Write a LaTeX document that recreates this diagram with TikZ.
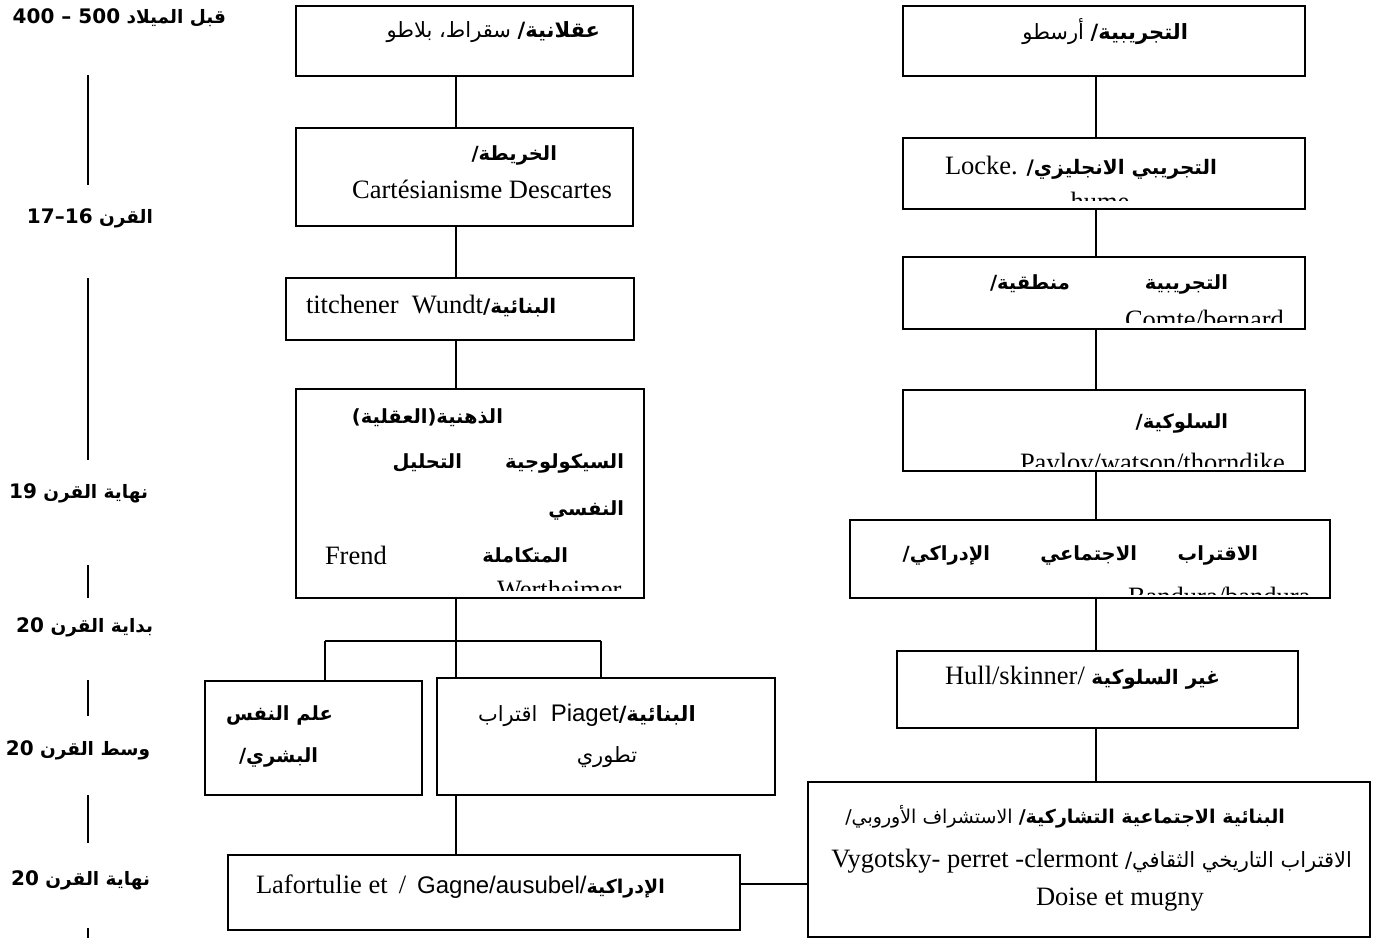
\documentclass[tikz,border=0pt]{standalone}
\usepackage{fontspec}
\setmainfont{Liberation Serif}
\newfontfamily\arb[Script=Arabic]{DejaVu Sans}
\newfontfamily\tlat{DejaVu Sans}
\newfontfamily\lsans{Liberation Sans}
\TeXXeTstate=1
\newcommand\RL[1]{\beginR #1\endR}
\newcommand\fs[1]{\fontsize{#1}{#1}\selectfont}
\newcommand\mkbox[5]{\node[box, minimum width={#4-#2}, minimum height={#5-#3}] (#1) at ({(#2+#4)/2},{(#3+#5)/2}) {};}
\tikzset{
  box/.style={draw, line width=1.5pt, inner sep=0pt, outer sep=0pt},
  conn/.style={line width=1.5pt},
  txt/.style={inner sep=0pt, outer sep=0pt, font=\fs{26.5}},
  ar/.style={inner sep=0pt, outer sep=0pt, font=\arb\fs{21}},
  arb/.style={inner sep=0pt, outer sep=0pt, font=\arb\bfseries\fs{19.5}},
  tl/.style={inner sep=0pt, outer sep=0pt, font=\arb\bfseries\fs{18.5}},
}
\begin{document}
\begin{tikzpicture}[x=1pt,y=-1pt]
\useasboundingbox (0,0) rectangle (1385,938);
\fill[white] (0,0) rectangle (1385,938);

% ---------- timeline ----------
\node[tl, anchor=east] (T1) at (226,18) {{\tlat\bfseries\fs{20}400 – 500} \RL{قبل الميلاد}};
\node[tl, anchor=east] (T2) at (153,218) {{\tlat\bfseries\fs{20}17–16} \RL{القرن}};
\node[tl, anchor=east] (T3) at (148,493) {{\tlat\bfseries\fs{20}19} \RL{نهاية القرن}};
\node[tl, anchor=east] (T4) at (153,627) {{\tlat\bfseries\fs{20}20} \RL{بداية القرن}};
\node[tl, anchor=east] (T5) at (150,750) {{\tlat\bfseries\fs{20}20} \RL{وسط القرن}};
\node[tl, anchor=east] (T6) at (150,880) {{\tlat\bfseries\fs{20}20} \RL{نهاية القرن}};
\coordinate (ta1) at (88,75);  \coordinate (tb1) at (88,185);
\coordinate (ta2) at (88,278); \coordinate (tb2) at (88,460);
\coordinate (ta3) at (88,565); \coordinate (tb3) at (88,598);
\coordinate (ta4) at (88,680); \coordinate (tb4) at (88,716);
\coordinate (ta5) at (88,795); \coordinate (tb5) at (88,843);
\coordinate (ta6) at (88,928); \coordinate (tb6) at (88,938);
\foreach \i in {1,...,6} \draw[conn] (ta\i) -- (tb\i);

% ---------- boxes ----------
\mkbox{B1}{296}{6}{633}{76}
\mkbox{B2}{296}{128}{633}{226}
\mkbox{B3}{286}{278}{634}{340}
\mkbox{B4}{296}{389}{644}{598}
\mkbox{L}{205}{681}{422}{795}
\mkbox{P}{437}{678}{775}{795}
\mkbox{BL}{228}{855}{740}{930}
\mkbox{R1}{903}{6}{1305}{76}
\mkbox{R2}{903}{138}{1305}{209}
\mkbox{R3}{903}{257}{1305}{329}
\mkbox{R4}{903}{390}{1305}{471}
\mkbox{R5}{850}{520}{1330}{598}
\mkbox{R6}{897}{651}{1298}{728}
\mkbox{R7}{808}{782}{1370}{937}

% ---------- connectors ----------
\coordinate (vL) at (456,0);
\coordinate (vR) at (1096,0);
\coordinate (jL) at (456,641);
\coordinate (jA) at (325,641);
\coordinate (jB) at (601,641);
\coordinate (hy) at (0,884);
\draw[conn] (B1.south -| vL) -- (B2.north -| vL);
\draw[conn] (B2.south -| vL) -- (B3.north -| vL);
\draw[conn] (B3.south -| vL) -- (B4.north -| vL);
\draw[conn] (B4.south -| vL) -- (jL);
\draw[conn] (jA) -- (jB);
\draw[conn] (jA) -- (L.north -| jA);
\draw[conn] (jB) -- (P.north -| jB);
\draw[conn] (jL) -- (P.north -| jL);
\draw[conn] (P.south -| vL) -- (BL.north -| vL);
\draw[conn] (BL.east |- hy) -- (R7.west |- hy);
\draw[conn] (R1.south -| vR) -- (R2.north -| vR);
\draw[conn] (R2.south -| vR) -- (R3.north -| vR);
\draw[conn] (R3.south -| vR) -- (R4.north -| vR);
\draw[conn] (R4.south -| vR) -- (R5.north -| vR);
\draw[conn] (R5.south -| vR) -- (R6.north -| vR);
\draw[conn] (R6.south -| vR) -- (R7.north -| vR);

% ---------- texts, left column ----------
\node[ar, anchor=east] (xB1) at (600,32) {\RL{{\bfseries عقلانية/} سقراط، بلاطو}};
\node[arb, anchor=east] (xB2a) at (557,155) {\RL{الخريطة/}};
\node[txt] (xB2b) at (482,189) {Cartésianisme Descartes};
\node[txt, anchor=west] (xB3) at (306,306) {titchener\ \ Wundt{\arb\bfseries\fs{20}\RL{البنائية/}}};
\node[arb, anchor=east] (xB4a) at (503,418) {\RL{الذهنية(العقلية)}};
\node[arb, anchor=east] (xB4b) at (624,463) {\RL{السيكولوجية}};
\node[arb, anchor=east] (xB4c) at (462,463) {\RL{التحليل}};
\node[arb, anchor=east] (xB4d) at (624,510) {\RL{النفسي}};
\node[txt, anchor=west] (xB4e) at (325,555) {Frend};
\node[arb, anchor=east] (xB4f) at (568,555) {\RL{المتكاملة}};
\begin{scope}
\clip (297,580) rectangle (643,590);
\node[txt, anchor=base west] (xB4g) at (497,598) {Wertheimer};
\end{scope}
\node[arb, anchor=east] (xLa) at (333,715) {\RL{علم النفس}};
\node[arb, anchor=east] (xLb) at (318,757) {\RL{البشري/}};
\node[ar, anchor=west] (xPa) at (478,715) {\RL{اقتراب}\ \ {\lsans\fs{24}Piaget}{\bfseries\fs{21}\RL{البنائية/}}};
\node[ar] (xPb) at (607,757) {\RL{تطوري}};
\node[txt, anchor=west] (xBL) at (256,887) {Lafortulie et \,/\, {\lsans\fs{24}Gagne/ausubel/}{\arb\bfseries\fs{19}\RL{الإدراكية}}};

% ---------- texts, right column ----------
\node[ar, anchor=east] (xR1) at (1188,32) {\RL{{\bfseries التجريبية/} أرسطو}};
\node[txt, anchor=west] (xR2) at (945,168) {Locke. {\arb\bfseries\fs{20}\RL{التجريبي الانجليزي/}}};
\begin{scope}
\clip (904,185) rectangle (1304,200);
\node[txt, anchor=base] (xR2b) at (1100,210) {hume};
\end{scope}
\node[arb, anchor=east] (xR3a) at (1228,284) {\RL{التجريبية}};
\node[arb, anchor=east] (xR3b) at (1070,284) {\RL{منطقية/}};
\begin{scope}
\clip (904,300) rectangle (1304,322);
\node[txt, anchor=base west] (xR3c) at (1125,328) {Comte/bernard};
\end{scope}
\node[arb, anchor=east] (xR4a) at (1228,423) {\RL{السلوكية/}};
\begin{scope}
\clip (904,440) rectangle (1304,466);
\node[txt, anchor=base west] (xR4b) at (1020,471) {Pavlov/watson/thorndike};
\end{scope}
\node[arb, anchor=east] (xR5a) at (1258,555) {\RL{الاقتراب}};
\node[arb, anchor=east] (xR5b) at (1137,555) {\RL{الاجتماعي}};
\node[arb, anchor=east] (xR5c) at (990,555) {\RL{الإدراكي/}};
\begin{scope}
\clip (851,575) rectangle (1329,594);
\node[txt, anchor=base west] (xR5d) at (1128,605) {Bandura/bandura};
\end{scope}
\node[txt, anchor=west] (xR6) at (945,678) {Hull/skinner/ {\arb\bfseries\fs{20}\RL{غير السلوكية}}};
\node[inner sep=0pt, outer sep=0pt, font=\arb\fs{19}, anchor=east] (xR7a) at (1285,817) {\RL{{\bfseries البنائية الاجتماعية التشاركية/} الاستشراف الأوروبي/}};
\node[txt, anchor=east] (xR7b) at (1352,861) {Vygotsky- perret -clermont {\arb\fs{21}\RL{الاقتراب التاريخي الثقافي/}}};
\node[txt] (xR7c) at (1120,900) {Doise et mugny};
\end{tikzpicture}
\end{document}
